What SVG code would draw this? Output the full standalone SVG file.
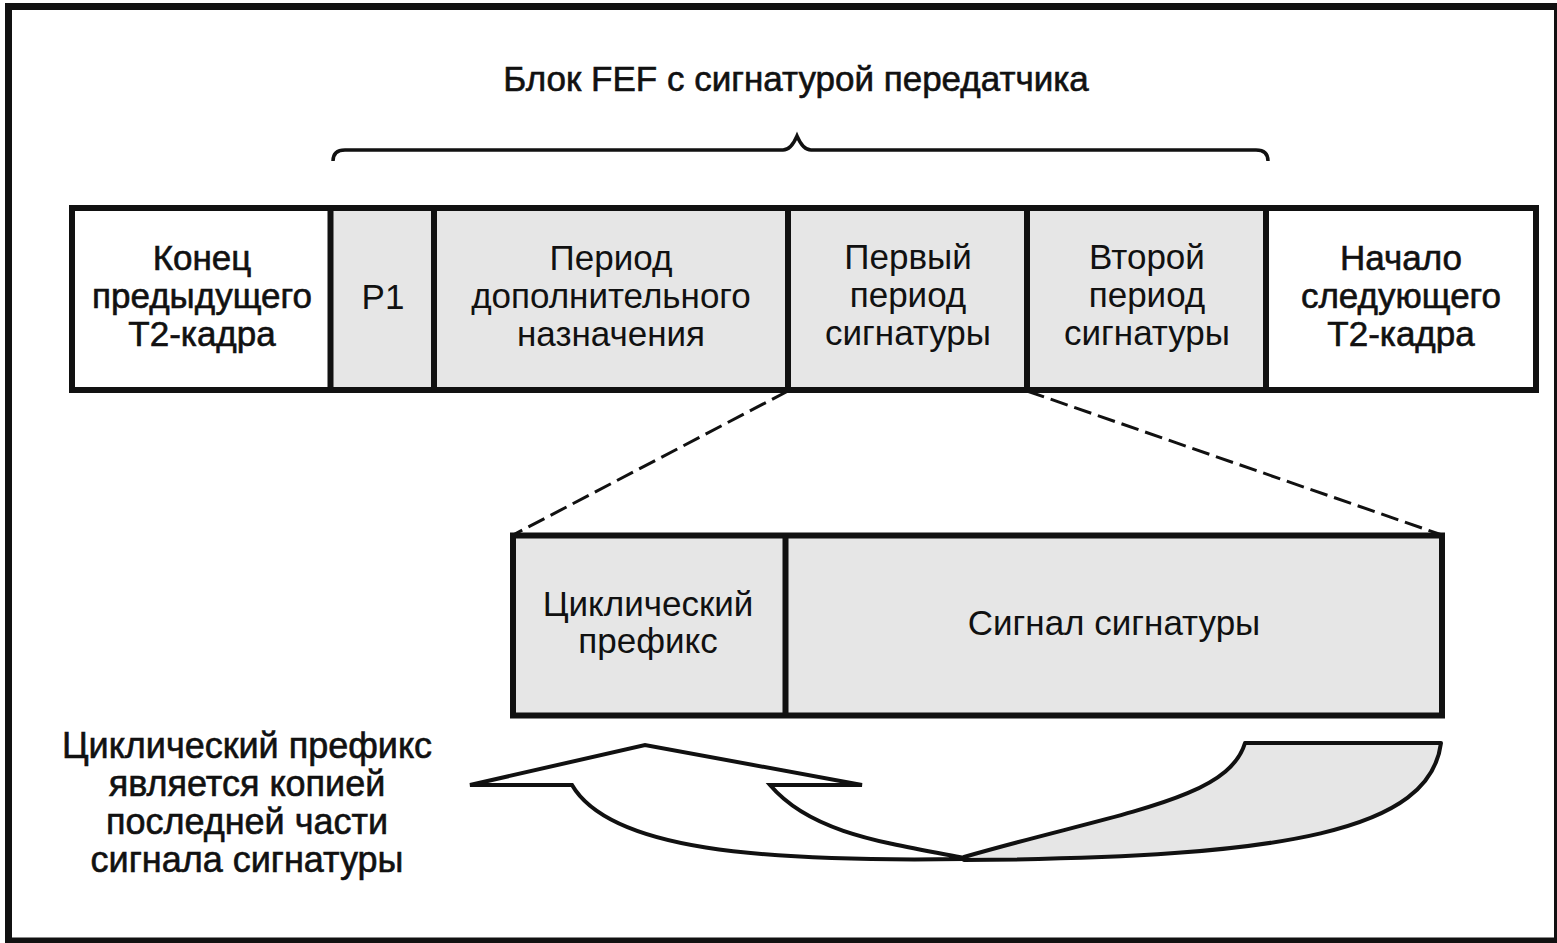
<svg xmlns="http://www.w3.org/2000/svg" width="1557" height="943" viewBox="0 0 1557 943">
<style>
text{font-family:"Liberation Sans",Arial,sans-serif;font-size:35px;fill:#111;text-anchor:middle}
.bw{stroke:#111;stroke-width:0.6}
.nt{font-size:36px}
.box{stroke:#111;stroke-width:6}
.g{fill:#e6e6e6}
.w{fill:#fff}
.div{stroke:#111;stroke-width:6;fill:none}
.dash{stroke:#111;stroke-width:3;stroke-dasharray:18 7;fill:none}
</style>
<rect x="0" y="0" width="1557" height="943" fill="#fff"/>
<rect id="frame" x="8.5" y="6.5" width="1549" height="934.5" fill="none" stroke="#111" stroke-width="7"/>
<g id="title">
<text class="bw" x="796" y="91">Блок FEF с сигнатурой передатчика</text>
<path d="M333,161 Q333,150 345,150 L783,150 Q791,150 797,136 Q803,150 811,150 L1256,150 Q1268,150 1268,161" fill="none" stroke="#111" stroke-width="3.5"/>
</g>
<g id="connectors">
<line class="dash" x1="788" y1="391" x2="513" y2="535"/>
<line class="dash" x1="1027" y1="391" x2="1442" y2="535"/>
</g>
<g id="n-end-prev">
<rect class="w" x="72" y="208" width="258.5" height="182"/>
<text class="bw" x="202" y="270">Конец</text>
<text class="bw" x="202" y="308">предыдущего</text>
<text class="bw" x="202" y="346">Т2-кадра</text>
</g>
<g id="n-p1">
<rect class="g" x="330.5" y="208" width="103.5" height="182"/>
<text x="383" y="309">P1</text>
</g>
<g id="n-aux">
<rect class="g" x="434" y="208" width="354" height="182"/>
<text x="611" y="270">Период</text>
<text x="611" y="308">дополнительного</text>
<text x="611" y="346">назначения</text>
</g>
<g id="n-sig1">
<rect class="g" x="788" y="208" width="239" height="182"/>
<text x="908" y="269">Первый</text>
<text x="908" y="307">период</text>
<text x="908" y="345">сигнатуры</text>
</g>
<g id="n-sig2">
<rect class="g" x="1027" y="208" width="239" height="182"/>
<text x="1147" y="269">Второй</text>
<text x="1147" y="307">период</text>
<text x="1147" y="345">сигнатуры</text>
</g>
<g id="n-start-next">
<rect class="w" x="1266" y="208" width="270" height="182"/>
<text class="bw" x="1401" y="270">Начало</text>
<text class="bw" x="1401" y="308">следующего</text>
<text class="bw" x="1401" y="346">Т2-кадра</text>
</g>
<g id="row1-lines">
<rect x="72" y="208" width="1464" height="182" fill="none" class="box"/>
<path class="div" d="M330.5,208V390M434,208V390M788,208V390M1027,208V390M1266,208V390"/>
</g>
<g id="n-prefix">
<rect class="g" x="513" y="535.5" width="272.5" height="180"/>
<text x="648" y="616">Циклический</text>
<text x="648" y="653">префикс</text>
</g>
<g id="n-signal">
<rect class="g" x="785.5" y="535.5" width="656.5" height="180"/>
<text x="1114" y="635">Сигнал сигнатуры</text>
</g>
<g id="row2-lines">
<rect x="513" y="535.5" width="929" height="180" fill="none" class="box"/>
<path class="div" d="M785.5,535.5V715.5"/>
</g>
<g id="copy-arrow">
<path d="M964,857 C1120,812 1228,800 1245,743 L1441,743 C1430,830 1290,858 964,860 Z" fill="#e6e6e6" stroke="#111" stroke-width="4" stroke-linejoin="round"/>
<path d="M964,859 C760,862 610,850 572,785 L470,785 L645,745 L862,785 L770,785 C810,832 880,842 964,858 Z" fill="#fff" stroke="#111" stroke-width="4" stroke-linejoin="miter"/>
</g>
<g id="note">
<text class="bw nt" x="247" y="758">Циклический префикс</text>
<text class="bw nt" x="247" y="796">является копией</text>
<text class="bw nt" x="247" y="834">последней части</text>
<text class="bw nt" x="247" y="872">сигнала сигнатуры</text>
</g>
</svg>
